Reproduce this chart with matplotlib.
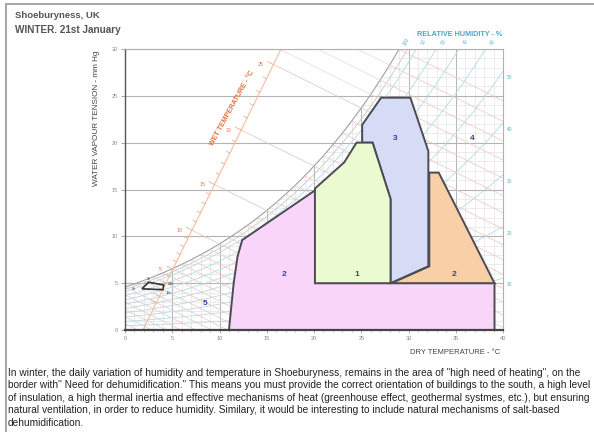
import numpy as np
import matplotlib
matplotlib.use("Agg")
import matplotlib.pyplot as plt
from matplotlib.patches import Polygon, Rectangle

plt.rcParams["font.family"] = ["Liberation Sans", "DejaVu Sans"]

# ---------------- data (dry temperature degC, vapour tension mmHg) ----------------
ZONE2_T = [11.0, 11.5, 11.9, 12.4, 20.1, 20.1, 39.1, 39.1]
ZONE2_E = [0.0, 5.0, 7.8, 9.6, 14.9, 5.0, 5.0, 0.0]
ZONE1_T = [20.1, 20.1, 23.2, 24.5, 26.2, 28.1, 28.1]
ZONE1_E = [5.0, 15.1, 17.9, 20.0, 20.0, 14.0, 5.0]
ZONE3_T = [25.1, 27.1, 30.2, 32.1, 32.1, 28.1, 28.1, 26.2, 25.1]
ZONE3_E = [21.9, 24.8, 24.8, 19.1, 6.8, 5.0, 14.0, 20.0, 20.0]
ZONE2B_T = [32.2, 33.2, 39.1, 28.2, 32.2]
ZONE2B_E = [16.8, 16.8, 5.0, 5.0, 6.8]

ZONE_LABELS = ["2", "1", "3", "2", "4", "5"]
ZONE_LABEL_T = [16.8, 24.5, 28.6, 34.8, 36.7, 8.5]
ZONE_LABEL_E = [5.9, 5.9, 20.4, 5.9, 20.4, 2.8]

# daily variation, 21st January
DAY_T = [1.8, 2.5, 4.1, 4.0]
DAY_E = [4.4, 5.1, 4.8, 4.3]
DAY_HOURS = ["6h", "9h", "21h", "15h"]

RH_LEVELS = [10, 20, 30, 40, 50, 60, 70, 80, 90]
RH_RIGHT_LABELS = [10, 20, 30, 40, 50]
RH_TOP_LABELS = [100, 90, 80, 70, 60]
WET_TEMPS = list(range(-10, 30))
WET_SCALE_LABELS = [5, 10, 15, 20, 25]
WET_UPPER = [5, 10, 15, 20, 25, 26, 27, 28, 29]

TEXT = ("In winter, the daily variation of humidity and temperature in Shoeburyness, remains in the area of \"high need of heating\", on the\n"
        "border with\" Need for dehumidification.\" This means you must provide the correct orientation of buildings to the south, a high level\n"
        "of insulation, a high thermal inertia and effective mechanisms of heat (greenhouse effect, geothermal systmes, etc.), but ensuring\n"
        "natural ventilation, in order to reduce humidity. Similary, it would be interesting to include natural mechanisms of salt-based\n"
        "dehumidification.")

# chart constants
PSY = 0.5          # wet-bulb line slope, mmHg per degC
SCALE_T0 = 1.9     # wet temperature scale foot (degC at 0 mmHg)
SCALE_K = 0.487    # degC per mmHg along the scale


def es(t):
    return 0.750062 * 6.112 * np.exp(17.62 * t / (243.12 + t))


fig = plt.figure(figsize=(5.94, 4.32), dpi=100)
ax = fig.add_axes([125 / 594, 102 / 432, 378 / 594, 281 / 432])
ax.set_xlim(0, 40)
ax.set_ylim(0, 30)

# region under the saturation curve
tt = np.linspace(0, 40, 400)
under = Polygon(list(zip(tt, np.minimum(es(tt), 30))) + [(40, 0), (0, 0)],
                closed=True, transform=ax.transData, fill=False, lw=0)
ax.add_patch(under)

# fine grid
for x in range(0, 41):
    l, = ax.plot([x, x], [0, 30], color="#dedede" if x % 5 else "#b4b4b4",
                 lw=0.4 if x % 5 else 0.7, zorder=1)
    l.set_clip_path(under)
for y in range(0, 31):
    if y % 5:
        l, = ax.plot([0, 40], [y, y], color="#dedede", lw=0.4, zorder=1)
        l.set_clip_path(under)
    else:
        ax.plot([0, 40], [y, y], color="#b4b4b4", lw=0.8, zorder=1)

# relative humidity curves
for rh in RH_LEVELS:
    ax.plot(tt, es(tt) * rh / 100, color="#b2dce8", lw=0.6, zorder=2)
ax.plot(tt, es(tt) * 0.95, color="#c0c0c0", lw=0.5, zorder=2)
ax.plot(tt, es(tt), color="#a0a0a0", lw=0.8, zorder=2)

# wet temperature lines under the curve
for tw in WET_TEMPS:
    e0 = es(tw)
    x1 = tw + e0 / PSY
    l, = ax.plot([tw - 10, x1], [e0 + PSY * 10, 0], color="#efc4be", lw=0.5, zorder=2)
    l.set_clip_path(under)


def scale_point(tw):
    e = (es(tw) + PSY * tw - PSY * SCALE_T0) / (1 + PSY * SCALE_K)
    return SCALE_T0 + SCALE_K * e, e


# wet temperature lines above the curve, up to the scale
for tw in WET_UPPER:
    ts, esc = scale_point(tw)
    ax.plot([ts, tw], [esc, es(tw)], color="#f2d6d2" if tw % 5 else "#d8c4c2",
            lw=0.5, zorder=2)

# wet temperature scale
ax.plot([SCALE_T0, SCALE_T0 + SCALE_K * 30], [0, 30], color="#f2bea2", lw=0.8, zorder=2)
for tw in range(0, 30):
    ts, esc = scale_point(tw)
    d = 0.35 if tw % 5 else 0.6
    ax.plot([ts, ts - d], [esc, esc + d * PSY], color="#e8a080", lw=0.5, zorder=2)
for tw in WET_SCALE_LABELS:
    ts, esc = scale_point(tw)
    ax.text(ts - 1.3, esc, str(tw), fontsize=3.8, color="#e07850",
            ha="center", va="center", zorder=6)
ax.text(11.4, 23.7, "WET TEMPERATURE - °C", fontsize=5, color="#e07040",
        fontweight="bold", rotation=61, ha="center", va="center", zorder=6)

# relative humidity labels
for rh in RH_RIGHT_LABELS:
    ax.text(40.7, es(40) * rh / 100 - 0.7, str(rh), fontsize=3.5, color="#5ab0cc",
            ha="center", va="center", clip_on=False)
for rh in RH_TOP_LABELS:
    q = np.log(30.8 / (0.750062 * 6.112 * rh / 100))
    tl = 243.12 * q / (17.62 - q)
    ax.text(tl + 0.3, 30.8, str(rh), fontsize=3.5, color="#5ab0cc", rotation=60,
            ha="center", va="center", clip_on=False)
ax.text(35.4, 31.6, "RELATIVE HUMIDITY - %", fontsize=5.2, color="#4aa6c6",
        fontweight="bold", ha="center", va="center", clip_on=False)

# zones
zones = [(ZONE2_T, ZONE2_E, "#f9d6f9"), (ZONE3_T, ZONE3_E, "#d6dcf6"),
         (ZONE1_T, ZONE1_E, "#eafbd2"), (ZONE2B_T, ZONE2B_E, "#f8cfa6")]
for i, (zt, ze, c) in enumerate(zones):
    ax.add_patch(Polygon(list(zip(zt, ze)), closed=True, facecolor=c,
                         edgecolor="#4d4b55", lw=1.4, zorder=4 + i * 0.1))
for lab, x, y in zip(ZONE_LABELS, ZONE_LABEL_T, ZONE_LABEL_E):
    ax.text(x, y, lab, fontsize=6, fontweight="bold", color="#3c3c9c",
            ha="center", va="center", zorder=6)

# daily variation
ax.add_patch(Polygon(list(zip(DAY_T, DAY_E)), closed=True, fill=False,
                     edgecolor="#333333", lw=1.2, zorder=6))
offs = [(-0.9, 0.0), (0.0, 0.35), (0.8, 0.1), (0.6, -0.35)]
for x, y, h, (dx, dy) in zip(DAY_T, DAY_E, DAY_HOURS, offs):
    ax.text(x + dx, y + dy, h, fontsize=2.8, color="#444444", ha="center", va="center", zorder=6)

# axes styling
for s in ["top", "right"]:
    ax.spines[s].set_color("#b0b0b0")
    ax.spines[s].set_linewidth(0.8)
ax.spines["left"].set_color("#555555")
ax.spines["left"].set_linewidth(1.0)
ax.spines["bottom"].set_color("#444444")
ax.spines["bottom"].set_linewidth(1.6)
ax.spines["bottom"].set_zorder(7)
ax.set_xticks(range(0, 41, 5))
ax.set_xticks(range(0, 41), minor=True)
ax.set_yticks(range(0, 31, 5))
ax.tick_params(labelsize=4, colors="#888888", length=2.5, width=0.5, pad=2)
ax.tick_params(which="minor", length=1.5, width=0.4, colors="#999999")
ax.yaxis.set_tick_params(length=3)

fig.text(97 / 594, 1 - 118 / 432, "WATER VAPOUR TENSION - mm Hg", rotation=90,
         fontsize=5.9, color="#444444", ha="center", va="center")
fig.text(500 / 594, 1 - 352 / 432, "DRY TEMPERATURE - °C", fontsize=5.5,
         color="#444444", ha="right", va="center")

fig.text(15 / 594, 1 - 16 / 432, "Shoeburyness, UK", fontsize=6.8, fontweight="bold",
         color="#555555", ha="left", va="center")
fig.text(15 / 594, 1 - 30 / 432, "WINTER. 21st January", fontsize=7.2, fontweight="bold",
         color="#555555", ha="left", va="center")
fig.text(8 / 594, 1 - 368 / 432, TEXT, fontsize=7.25, color="#222222", ha="left",
         va="top", linespacing=1.3)

fig.add_artist(Rectangle((6 / 594, -0.05), 1.2, 1.05 - 4 / 432, transform=fig.transFigure,
                         fill=False, edgecolor="#a8a8a8", lw=1.5))

fig.savefig("out.png", dpi=100)
